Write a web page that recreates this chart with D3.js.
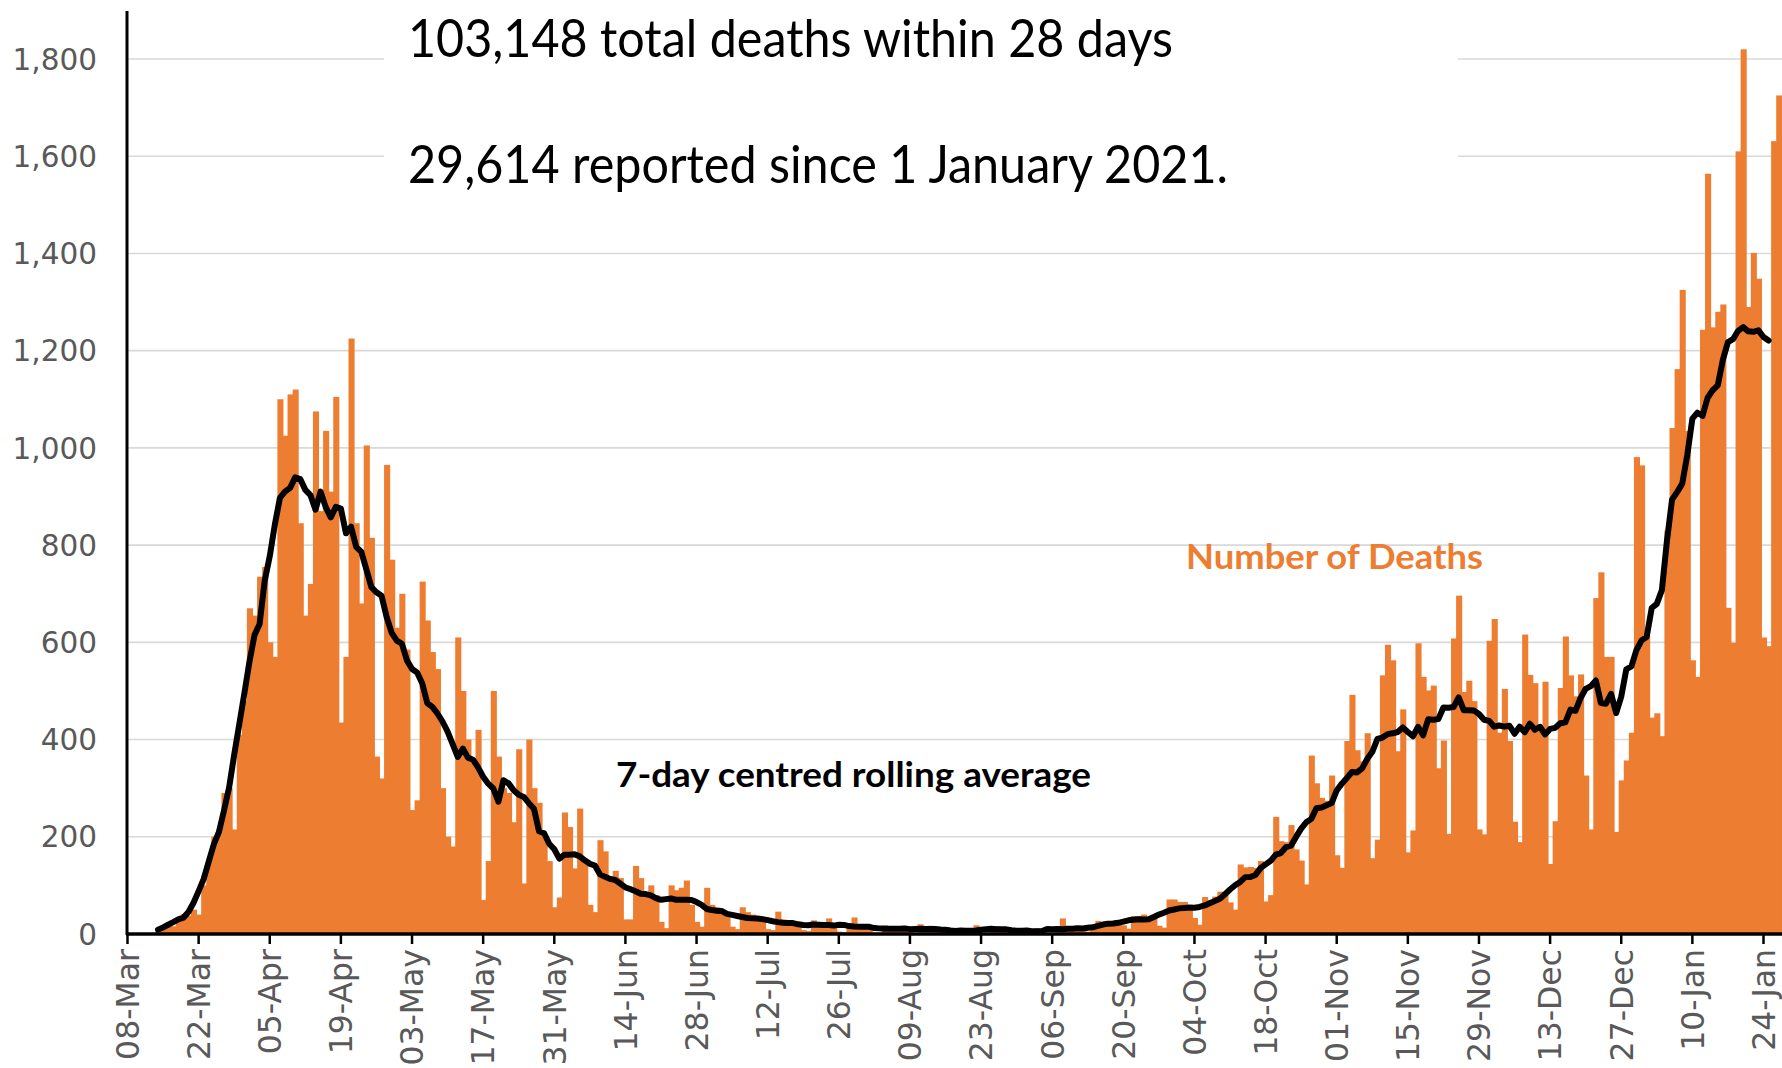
<!DOCTYPE html>
<html>
<head>
<meta charset="utf-8">
<script src="https://d3js.org/d3.v7.min.js"></script>
<style>
  body { margin: 0; background: #fff; }
  svg { display: block; }
</style>
</head>
<body>
<script>
const W = 1782, H = 1068;

// daily deaths within 28 days of a positive test, by date reported
const startDate = "2020-03-11";
const marchDeaths = [0, 2, 1, 10, 14, 20, 16, 32, 40, 38, 50, 40, 100, 150, 200, 215, 290, 300, 215, 410, 480];
const aprilDeaths = [670, 655, 735, 755, 600, 570, 1100, 1025, 1110, 1120, 845, 655, 720, 1075, 870,
  1035, 910, 1105, 435, 570, 1225, 845, 680, 1005, 815, 365, 320, 965, 770, 630];
const mayDeaths = [700, 585, 255, 275, 725, 645, 580, 545, 300, 200, 180, 610, 500, 400, 360, 420,
  70, 150, 500, 365, 300, 290, 230, 380, 104, 400, 300, 270, 200, 150, 55];
const juneDeaths = [75, 250, 220, 135, 258, 150, 60, 45, 193, 170, 110, 130, 115, 30, 30, 140,
  115, 85, 100, 80, 25, 12, 100, 90, 95, 110, 60, 25, 15, 95];
const julyDeaths = [60, 55, 50, 45, 15, 10, 55, 45, 40, 35, 30, 10, 8, 46, 30, 25, 22, 20, 8, 6,
  28, 22, 20, 32, 18, 5, 4, 20, 34, 18, 15];
const augustDeaths = [12, 3, 3, 18, 16, 14, 10, 12, 4, 2, 20, 8, 17, 11, 11, 3, 2, 12, 6, 6, 2,
  18, 1, 2, 16, 16, 12, 9, 12, 1, 1];
const septemberDeaths = [3, 10, 12, 10, 2, 2, 3, 32, 8, 14, 6, 9, 5, 9, 27, 20, 21, 27, 27, 18,
  11, 37, 37, 40, 34, 34, 17, 13, 71, 71];
const octoberDeaths = [66, 66, 49, 33, 19, 76, 70, 77, 87, 81, 65, 50, 143, 137, 138, 136, 150,
  67, 80, 241, 191, 189, 224, 174, 151, 102, 367, 310, 280, 274, 326];
const novemberDeaths = [162, 136, 397, 492, 378, 355, 413, 156, 194, 532, 595, 563, 376, 462, 168,
  213, 598, 529, 501, 511, 341, 398, 206, 608, 696, 498, 521, 479, 215, 205];
const decemberDeaths = [603, 648, 414, 504, 397, 231, 189, 616, 533, 516, 424, 519, 144, 232, 506,
  612, 532, 489, 534, 326, 215, 691, 744, 570, 570, 210, 316, 357, 414, 981, 964];
const januaryDeaths = [613, 445, 454, 407, 830, 1041, 1162, 1325, 1035, 563, 529, 1243, 1564, 1248,
  1280, 1295, 671, 599, 1610, 1820, 1290, 1401, 1348, 610, 592, 1631, 1725, 1239];

const tickDates = ["2020-03-08", "2020-03-22", "2020-04-05", "2020-04-19", "2020-05-03", "2020-05-17",
  "2020-05-31", "2020-06-14", "2020-06-28", "2020-07-12", "2020-07-26", "2020-08-09", "2020-08-23",
  "2020-09-06", "2020-09-20", "2020-10-04", "2020-10-18", "2020-11-01", "2020-11-15", "2020-11-29",
  "2020-12-13", "2020-12-27", "2021-01-10", "2021-01-24"];
const yTicks = [0, 200, 400, 600, 800, 1000, 1200, 1400, 1600, 1800];

const headline1 = "103,148 total deaths within 28 days";
const headline2 = "29,614 reported since 1 January 2021.";
const barLabel = "Number of Deaths";
const lineLabel = "7-day centred rolling average";

const orange = "#ED7D31";
const grey = "#595959";

const parse = d3.utcParse("%Y-%m-%d");
const t0 = parse(startDate);
const deaths = [].concat(marchDeaths, aprilDeaths, mayDeaths, juneDeaths, julyDeaths, augustDeaths,
  septemberDeaths, octoberDeaths, novemberDeaths, decemberDeaths, januaryDeaths);
const data = deaths.map((v, i) => ({date: d3.utcDay.offset(t0, i), value: v}));

// centred 7-day mean
const rolling = data.slice(3, data.length - 3).map((d, i) => ({
  date: d.date,
  value: d3.mean(deaths.slice(i, i + 7))
}));

const x = d3.scaleUtc()
  .domain([parse(tickDates[0]), parse(tickDates[tickDates.length - 1])])
  .range([127.5, 1763.5]);
const y = d3.scaleLinear().domain([0, 1800]).range([934, 59]);
const dayW = x(d3.utcDay.offset(t0, 1)) - x(t0);

const svg = d3.select("body").append("svg")
  .attr("width", W).attr("height", H)
  .style("background", "#fff");

// gridlines
svg.append("g")
  .selectAll("line")
  .data(yTicks.filter(d => d > 0))
  .join("line")
    .attr("x1", 127).attr("x2", W)
    .attr("y1", d => y(d)).attr("y2", d => y(d))
    .attr("stroke", "#d9d9d9")
    .attr("stroke-width", 1.6);

// headline box hides the top gridlines
svg.append("rect")
  .attr("x", 384).attr("y", 0)
  .attr("width", 1074).attr("height", 200)
  .attr("fill", "#fff");

// bars (slight overlap so no seams show)
svg.append("g")
  .selectAll("rect")
  .data(data)
  .join("rect")
    .attr("x", d => x(d.date) - dayW / 2)
    .attr("width", dayW + 1)
    .attr("y", d => y(d.value))
    .attr("height", d => y(0) - y(d.value))
    .attr("fill", orange);

// rolling average
svg.append("path")
  .datum(rolling)
  .attr("fill", "none")
  .attr("stroke", "#000")
  .attr("stroke-width", 6)
  .attr("stroke-linejoin", "round")
  .attr("stroke-linecap", "round")
  .attr("d", d3.line().x(d => x(d.date)).y(d => y(d.value)));

// axes
svg.append("line")
  .attr("x1", 127).attr("x2", 127).attr("y1", 11).attr("y2", 935)
  .attr("stroke", "#000").attr("stroke-width", 3);
svg.append("line")
  .attr("x1", 126).attr("x2", W).attr("y1", 934).attr("y2", 934)
  .attr("stroke", "#000").attr("stroke-width", 3.5);

const fmt = d3.utcFormat("%d-%b");
const xt = svg.append("g");
xt.selectAll("line")
  .data(tickDates)
  .join("line")
    .attr("x1", d => x(parse(d))).attr("x2", d => x(parse(d)))
    .attr("y1", 934).attr("y2", 944)
    .attr("stroke", "#000").attr("stroke-width", 2.5);
xt.selectAll("text")
  .data(tickDates)
  .join("text")
    .attr("transform", d => `translate(${x(parse(d))},949) rotate(-90)`)
    .attr("dy", "0.36em")
    .attr("text-anchor", "end")
    .attr("font-family", "DejaVu Sans, Verdana, sans-serif")
    .attr("font-size", 31.5)
    .attr("fill", grey)
    .text(d => fmt(parse(d)));

svg.append("g")
  .selectAll("text")
  .data(yTicks)
  .join("text")
    .attr("x", 97)
    .attr("y", d => y(d))
    .attr("dy", "0.36em")
    .attr("text-anchor", "end")
    .attr("font-family", "DejaVu Sans, Verdana, sans-serif")
    .attr("font-size", 29.5)
    .attr("fill", grey)
    .text(d => d3.format(",")(d));

// headline
const head = svg.append("g")
  .attr("font-family", "Lato, 'Open Sans', sans-serif")
  .attr("font-size", 52)
  .attr("fill", "#000");
head.append("text")
  .attr("x", 408).attr("y", 57)
  .attr("textLength", 765).attr("lengthAdjust", "spacingAndGlyphs")
  .text(headline1);
head.append("text")
  .attr("x", 408).attr("y", 183)
  .attr("textLength", 820).attr("lengthAdjust", "spacingAndGlyphs")
  .text(headline2);

// series labels
svg.append("text")
  .attr("x", 1186).attr("y", 569)
  .attr("font-family", "Lato, 'Open Sans', sans-serif")
  .attr("font-weight", "bold")
  .attr("font-size", 35)
  .attr("fill", orange)
  .attr("textLength", 297).attr("lengthAdjust", "spacingAndGlyphs")
  .text(barLabel);
svg.append("text")
  .attr("x", 616).attr("y", 787)
  .attr("font-family", "Lato, 'Open Sans', sans-serif")
  .attr("font-weight", "bold")
  .attr("font-size", 35)
  .attr("fill", "#000")
  .attr("textLength", 475).attr("lengthAdjust", "spacingAndGlyphs")
  .text(lineLabel);
</script>
</body>
</html>
